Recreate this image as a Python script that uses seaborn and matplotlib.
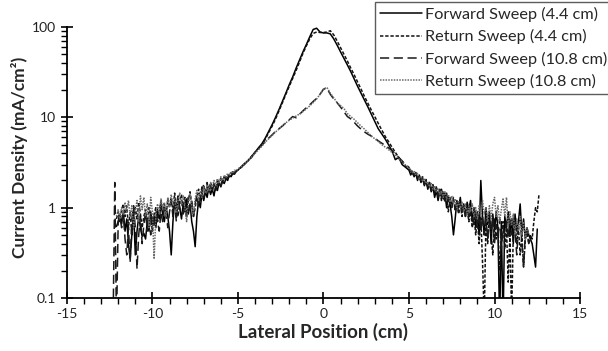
import numpy as np
import pandas as pd
import matplotlib
matplotlib.use("Agg")
import matplotlib.pyplot as plt
import seaborn as sns
from matplotlib.ticker import MultipleLocator, FixedLocator, FuncFormatter, NullFormatter

sns.set_style("ticks")
plt.rcParams['font.family'] = ['Lato', 'DejaVu Sans']
plt.rcParams['axes.unicode_minus'] = False

# x grids: fine in the noisy tails, coarser through the smooth centre
x_left = np.round(np.arange(-12.3, -5.05, 0.1), 1)
x_mid = np.round(np.arange(-5.0, 4.85, 0.2), 1)
x_right = np.round(np.arange(5.0, 12.65, 0.1), 1)
nan = np.nan

labels = ['Forward Sweep (4.4 cm)', 'Return Sweep (4.4 cm)',
          'Forward Sweep (10.8 cm)', 'Return Sweep (10.8 cm)']

# current density (mA/cm2)
fwd44_left = [nan, nan, 0.62, 0.7, 0.85, 0.66, 0.9, 0.55, 0.75, 0.4,
              0.27, 0.5, 0.95, 0.3, 0.55, 0.8, 0.6, 0.48, 0.52, 0.45,
              0.7, 0.55, 0.9, 0.65, 0.8, 0.6, 0.95, 0.75, 1.1, 0.85,
              0.7, 1.0, 0.8, 0.55, 0.3, 0.7, 1.2, 0.9, 1.3, 1.0,
              0.75, 1.1, 0.9, 1.25, 0.85, 1.1, 0.7, 0.55, 0.37, 0.8,
              1.2, 1.0, 1.45, 1.2, 1.5, 1.3, 1.7, 1.4, 1.6, 1.35,
              1.75, 1.55, 1.9, 1.7, 1.95, 1.85, 2.1, 2.0, 2.3, 2.2,
              2.4, 2.35, 2.55]
fwd44_mid = [2.6, 2.85, 3.1, 3.3, 3.7, 4.1, 4.6, 5.1, 5.9, 7.0,
             8.3, 10.0, 12.2, 15.0, 18.5, 23, 28, 35, 43, 53,
             64, 78, 94, 97, 88, 86, 86, 84, 74, 63,
             53, 45, 38, 32, 26.5, 22, 18.5, 15.5, 13, 10.8,
             9.0, 7.5, 6.6, 5.8, 5.0, 4.3, 3.4, 3.6, 3.0, 2.8]
fwd44_right = [2.6, 2.3, 2.5, 2.2, 2.4, 2.0, 2.3, 1.9, 2.1, 1.75,
               2.0, 1.6, 1.85, 1.5, 1.7, 1.3, 1.55, 1.2, 1.5, 1.6,
               1.25, 1.45, 1.0, 1.3, 1.1, 0.8, 0.5, 0.75, 1.2, 1.0,
               1.3, 0.9, 1.1, 0.8, 1.15, 0.95, 1.2, 0.7, 1.0, 0.6,
               0.9, 0.5, 2.0, 0.8, 0.5, 1.0, 0.65, 0.9, 0.4, 0.85,
               0.55, 0.9, 0.6, 0.05, 0.7, 0.05, 0.8, 0.6, 0.9, 0.5,
               0.75, 0.4, 0.85, 0.55, 0.7, 1.1, 0.5, 0.75, 0.45, 0.6,
               0.5, 0.45, 0.4, 0.3, 0.22, 0.58, nan]

ret44_left = [nan, nan, 0.75, 0.9, 0.7, 0.95, 1.1, 0.8, 1.05, 0.6,
              0.9, 0.5, 0.7, 1.0, 0.75, 1.15, 0.85, 0.6, 0.8, 0.95,
              0.65, 1.0, 0.8, 0.55, 0.85, 1.0, 0.7, 0.9, 1.2, 0.9,
              1.1, 0.8, 1.25, 1.0, 1.3, 0.9, 1.45, 1.1, 0.8, 1.2,
              1.4, 1.0, 1.3, 0.9, 1.2, 1.5, 1.1, 0.8, 1.0, 1.3,
              1.6, 1.2, 1.5, 1.8, 1.4, 1.7, 1.5, 1.9, 1.6, 1.8,
              1.55, 2.0, 1.8, 2.1, 1.9, 2.2, 2.05, 2.3, 2.2, 2.45,
              2.3, 2.55, 2.5]
ret44_mid = [2.65, 2.8, 3.05, 3.35, 3.7, 4.1, 4.5, 5.0, 5.7, 6.8,
             8.0, 9.6, 11.8, 14.5, 18, 22, 27, 33, 41, 51,
             62, 74, 85, 88, 87, 87, 88, 91, 82, 70,
             59, 50, 42, 35, 29.5, 24.5, 20.5, 17, 14.3, 12,
             10.2, 8.6, 7.3, 6.2, 5.4, 4.7, 4.1, 3.6, 3.2, 2.9]
ret44_right = [2.7, 2.5, 2.4, 2.25, 2.4, 2.1, 2.2, 1.95, 2.15, 1.85,
               1.95, 1.7, 1.9, 1.55, 1.75, 1.45, 1.65, 1.3, 1.55, 1.2,
               1.45, 1.15, 1.35, 0.9, 1.25, 1.05, 1.3, 0.95, 1.15, 0.85,
               1.1, 0.8, 1.05, 0.9, 1.0, 0.7, 0.95, 0.6, 0.85, 0.5,
               0.75, 0.4, 0.8, 0.25, 0.06, 0.7, 0.4, 0.85, 0.5, 0.3,
               0.75, 0.45, 0.6, 0.2, 0.5, 0.7, 0.35, 0.6, 0.15, 0.5,
               0.06, 0.55, 0.7, 0.4, 0.6, 0.3, 0.5, 0.22, 0.45, 0.55,
               0.4, 0.5, 0.45, 0.7, 1.0, 0.9, 1.4]

fwd108_left = [0.05, 1.9, 0.05, 0.7, 0.8, 0.6, 0.85, 0.45, 0.3, 0.6,
               0.25, 0.75, 1.05, 0.6, 0.21, 0.5, 0.8, 0.4, 0.65, 0.9,
               0.55, 0.75, 0.5, 0.85, 0.6, 0.9, 0.7, 0.55, 0.9, 0.7,
               1.05, 0.85, 0.6, 0.9, 1.2, 0.8, 1.1, 0.7, 1.35, 0.95,
               1.2, 0.85, 1.05, 0.75, 1.3, 0.95, 1.2, 0.8, 1.1, 1.4,
               1.0, 1.35, 1.7, 1.3, 1.6, 1.9, 1.45, 1.75, 1.5, 1.85,
               1.6, 1.8, 2.0, 1.75, 2.05, 1.9, 2.2, 2.1, 2.35, 2.25,
               2.5, 2.4, 2.6]
fwd108_mid = [2.65, 2.8, 3.05, 3.3, 3.6, 4.1, 4.5, 4.9, 5.4, 5.9,
              6.4, 7.0, 7.5, 8.0, 8.7, 9.4, 10.2, 9.9, 10.8, 11.8,
              12.8, 13.8, 15.0, 16.2, 18.0, 20.5, 21.0, 18.0, 16.0, 14.5,
              13.0, 11.5, 10.2, 9.6, 8.8, 8.0, 7.4, 6.9, 6.5, 6.2,
              5.9, 5.5, 5.2, 4.9, 4.6, 4.3, 3.95, 3.6, 3.3, 3.0]
fwd108_right = [2.8, 2.5, 2.6, 2.3, 2.45, 2.15, 2.3, 2.0, 2.2, 1.8,
                2.05, 1.7, 1.9, 1.55, 1.8, 1.5, 1.7, 1.35, 1.6, 1.3,
                1.55, 1.2, 1.45, 1.1, 1.3, 1.0, 1.2, 0.95, 1.15, 0.9,
                1.1, 0.85, 1.05, 0.8, 1.0, 0.75, 0.95, 0.8, 0.65, 0.9,
                0.6, 0.85, 0.55, 0.8, 0.5, 0.75, 0.45, 0.7, 0.55, 0.8,
                0.4, 0.65, 0.5, 0.75, 0.35, 0.6, 0.5, 0.7, 0.45, 0.75,
                0.5, 0.8, 0.55, 0.3, 0.6, 0.75, 0.4, 0.22, 0.5, 0.55,
                0.4, 0.45, nan, nan, nan, nan, nan]

ret108_left = [nan, nan, 0.8, 0.95, 0.75, 1.0, 0.85, 1.15, 0.9, 1.2,
               0.8, 1.05, 0.6, 0.9, 1.2, 0.7, 1.35, 0.95, 1.3, 0.8,
               1.1, 0.6, 1.3, 0.9, 0.27, 0.8, 1.1, 0.85, 1.25, 0.95,
               1.15, 0.8, 1.3, 1.0, 1.4, 1.05, 1.3, 0.9, 1.2, 1.45,
               1.1, 1.35, 1.0, 0.7, 1.15, 1.4, 1.05, 0.85, 1.25, 1.55,
               1.2, 1.5, 1.3, 1.7, 1.45, 1.8, 1.55, 1.9, 1.7, 2.0,
               1.75, 2.1, 1.85, 2.2, 2.0, 2.3, 2.15, 2.4, 2.3, 2.5,
               2.4, 2.6, 2.55]
ret108_mid = [2.7, 2.85, 3.1, 3.35, 3.65, 4.0, 4.4, 4.8, 5.3, 5.8,
              6.3, 6.9, 7.4, 8.1, 8.7, 9.3, 9.8, 10.3, 10.9, 11.6,
              12.4, 13.4, 14.6, 16.0, 18.0, 20.5, 21.5, 18.5, 16.5, 14.5,
              13.5, 12.5, 11.0, 10.2, 9.5, 8.7, 8.0, 7.4, 6.8, 6.2,
              5.8, 5.4, 5.0, 4.7, 4.4, 4.1, 3.8, 3.5, 3.2, 2.95]
ret108_right = [2.75, 2.6, 2.45, 2.55, 2.3, 2.4, 2.1, 2.25, 1.95, 2.1,
                1.85, 1.95, 1.7, 1.85, 1.6, 1.75, 1.5, 1.65, 1.4, 1.55,
                1.3, 1.5, 1.25, 1.4, 1.15, 1.35, 1.1, 1.25, 1.0, 1.2,
                0.95, 1.15, 0.9, 1.1, 0.85, 1.05, 0.9, 1.1, 0.8, 1.0,
                0.75, 1.05, 0.8, 1.2, 0.85, 1.0, 0.7, 1.05, 0.75, 1.1,
                1.3, 0.8, 1.05, 0.7, 0.95, 1.25, 0.8, 1.3, 0.6, 0.9,
                0.65, 0.85, 0.5, 0.75, 0.55, 0.8, 0.5, 0.7, 0.45, 0.6,
                0.5, nan, nan, nan, nan, nan, nan]

parts = {
    labels[0]: (fwd44_left, fwd44_mid, fwd44_right),
    labels[1]: (ret44_left, ret44_mid, ret44_right),
    labels[2]: (fwd108_left, fwd108_mid, fwd108_right),
    labels[3]: (ret108_left, ret108_mid, ret108_right),
}

x_all = np.concatenate([x_left, x_mid, x_right])
frames = []
for name, (a, b, c) in parts.items():
    y = np.concatenate([np.asarray(a, float), np.asarray(b, float), np.asarray(c, float)])
    frames.append(pd.DataFrame({'x': x_all, 'y': y, 'series': name}))
df = pd.concat(frames).dropna()

palette = {labels[0]: '#000000', labels[1]: '#111111',
           labels[2]: '#1a1a1a', labels[3]: '#6a6a6a'}
dashes = {labels[0]: '', labels[1]: (2.2, 1.2),
          labels[2]: (6, 3), labels[3]: (1, 0.8)}

fig = plt.figure(figsize=(6.08, 3.51), dpi=100)
ax = fig.add_axes([0.110, 0.151, 0.844, 0.772])

sns.lineplot(data=df, x='x', y='y', hue='series', style='series',
             palette=palette, dashes=dashes, estimator=None,
             linewidth=1.1, ax=ax)

ax.set_yscale('log')
ax.set_xlim(-15, 15)
ax.set_ylim(0.1, 100)

ax.xaxis.set_major_locator(MultipleLocator(5))
ax.xaxis.set_minor_locator(MultipleLocator(1))
ax.yaxis.set_major_locator(FixedLocator([0.1, 1, 10, 100]))
ax.yaxis.set_minor_locator(FixedLocator([m * d for d in (0.1, 1, 10) for m in range(2, 10)]))
ax.yaxis.set_major_formatter(FuncFormatter(lambda v, _: f'{v:g}'))
ax.yaxis.set_minor_formatter(NullFormatter())
ax.tick_params(which='major', direction='inout', length=8, width=1.2,
               labelsize=10, colors='black', labelcolor='#222222')
ax.tick_params(which='minor', direction='out', length=4, width=1.0, colors='black')

sns.despine(ax=ax)
for s in ('left', 'bottom'):
    ax.spines[s].set_linewidth(1.3)
    ax.spines[s].set_color('black')

ax.set_xlabel('Lateral Position (cm)', fontsize=13.5, fontweight='bold', labelpad=2)
ax.set_ylabel('Current Density (mA/cm²)', fontsize=12.5, fontweight='bold')
ax.yaxis.set_label_coords(-0.076, 0.52)

old = ax.get_legend()
handles = old.legend_handles
old.remove()
leg = ax.legend(handles, labels, loc='upper right',
                bbox_to_anchor=(1.006, 0.994), bbox_transform=fig.transFigure,
                frameon=True, fancybox=False, edgecolor='#333333',
                fontsize=11.7, handlelength=2.6, handletextpad=0.15,
                labelspacing=0.45, borderpad=0.3, borderaxespad=0)
leg.get_frame().set_linewidth(1.0)
for h in leg.get_lines():
    h.set_linewidth(1.1)

fig.savefig('out.png', dpi=100)
